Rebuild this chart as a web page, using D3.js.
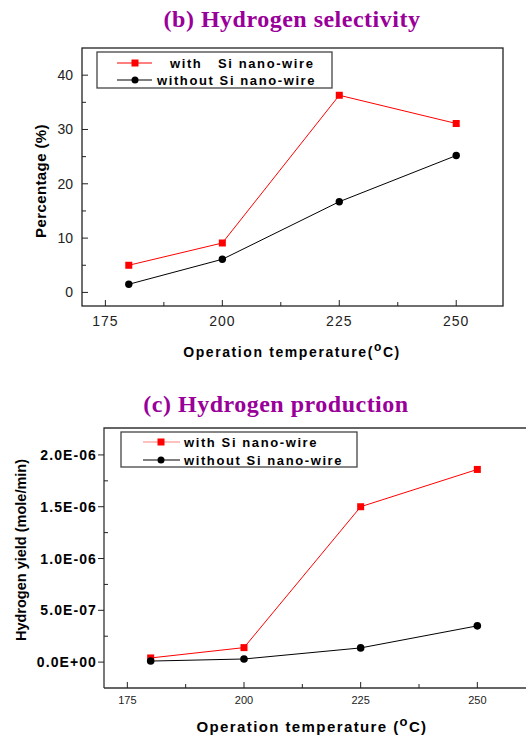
<!DOCTYPE html>
<html>
<head>
<meta charset="utf-8">
<script src="https://cdn.jsdelivr.net/npm/d3@7"></script>
<style>
  body { margin: 0; background: #fff; }
  svg { display: block; }
  text { font-family: "Liberation Sans", Arial, sans-serif; }
  .title { font-family: "Liberation Serif", "Times New Roman", serif; font-weight: bold; fill: #990099; font-size: 24px; letter-spacing: 0.5px; }
</style>
</head>
<body>
<svg id="chart" width="526" height="738"></svg>
<script>
// temperatures (deg C)
var temps = [180, 200, 225, 250];
var xTicks = [175, 200, 225, 250];

// (b) hydrogen selectivity, %
var selWith = [5.0, 9.1, 36.3, 31.1];
var selWithout = [1.5, 6.1, 16.7, 25.2];
var selTicks = [0, 10, 20, 30, 40];

// (c) hydrogen yield, mole/min
var yieldWith = [4e-8, 1.4e-7, 1.5e-6, 1.86e-6];
var yieldWithout = [1e-8, 3e-8, 1.37e-7, 3.5e-7];
var yieldTicks = [0, 5e-7, 1e-6, 1.5e-6, 2e-6];
var yieldTickLabels = ["0.0E+00", "5.0E-07", "1.0E-06", "1.5E-06", "2.0E-06"];

var svg = d3.select("#chart");

// ---------- panel (b) ----------
var xb = d3.scaleLinear().domain([170, 260]).range([82, 503]);
var yb = d3.scaleLinear().domain([-2.5, 45]).range([306, 48]);

svg.append("text").attr("class", "title")
  .attr("x", 292).attr("y", 27).attr("text-anchor", "middle")
  .text("(b) Hydrogen selectivity");

svg.append("rect")
  .attr("x", 82).attr("y", 48).attr("width", 503 - 82).attr("height", 306 - 48)
  .attr("fill", "none").attr("stroke", "#222").attr("stroke-width", 1.3);

// y ticks (inward)
var gb = svg.append("g");
gb.selectAll(".ymaj").data(selTicks).enter().append("line")
  .attr("x1", 82).attr("x2", 88)
  .attr("y1", function(d){ return yb(d); }).attr("y2", function(d){ return yb(d); })
  .attr("stroke", "#222");
gb.selectAll(".ymin").data([5, 15, 25, 35]).enter().append("line")
  .attr("x1", 82).attr("x2", 86)
  .attr("y1", function(d){ return yb(d); }).attr("y2", function(d){ return yb(d); })
  .attr("stroke", "#222");
gb.selectAll(".ylab").data(selTicks).enter().append("text")
  .attr("x", 73).attr("y", function(d){ return yb(d) + 5; })
  .attr("text-anchor", "end").attr("font-size", 14).attr("fill", "#222")
  .text(function(d){ return d; });

// x ticks (inward)
gb.selectAll(".xmaj").data(xTicks).enter().append("line")
  .attr("x1", function(d){ return xb(d); }).attr("x2", function(d){ return xb(d); })
  .attr("y1", 306).attr("y2", 300).attr("stroke", "#222");
gb.selectAll(".xmin").data([187.5, 212.5, 237.5]).enter().append("line")
  .attr("x1", function(d){ return xb(d); }).attr("x2", function(d){ return xb(d); })
  .attr("y1", 306).attr("y2", 302).attr("stroke", "#222");
gb.selectAll(".xlab").data(xTicks).enter().append("text")
  .attr("x", function(d){ return xb(d); }).attr("y", 326)
  .attr("text-anchor", "middle").attr("font-size", 14).attr("fill", "#222")
  .attr("letter-spacing", 1)
  .text(function(d){ return d; });

svg.append("text")
  .attr("transform", "translate(46,181) rotate(-90)")
  .attr("text-anchor", "middle").attr("font-size", 15).attr("font-weight", "bold")
  .attr("letter-spacing", 0.4)
  .text("Percentage (%)");

var xlabB = svg.append("text")
  .attr("x", 292).attr("y", 357).attr("text-anchor", "middle")
  .attr("font-size", 14).attr("font-weight", "bold").attr("letter-spacing", 1.6);
xlabB.append("tspan").text("Operation temperature(");
xlabB.append("tspan").attr("dy", -6).attr("font-size", 12).text("o");
xlabB.append("tspan").attr("dy", 6).text("C)");

var lineB = d3.line()
  .x(function(d, i){ return xb(temps[i]); })
  .y(function(d){ return yb(d); });

svg.append("path").datum(selWith).attr("d", lineB)
  .attr("fill", "none").attr("stroke", "#ff0000").attr("stroke-width", 1);
svg.append("path").datum(selWithout).attr("d", lineB)
  .attr("fill", "none").attr("stroke", "#000").attr("stroke-width", 1);
svg.selectAll(".sqb").data(selWith).enter().append("rect")
  .attr("x", function(d, i){ return xb(temps[i]) - 3.5; })
  .attr("y", function(d){ return yb(d) - 3.5; })
  .attr("width", 7).attr("height", 7).attr("fill", "#ff0000");
svg.selectAll(".cb").data(selWithout).enter().append("circle")
  .attr("cx", function(d, i){ return xb(temps[i]); })
  .attr("cy", function(d){ return yb(d); })
  .attr("r", 3.7).attr("fill", "#000");

// legend (b)
svg.append("rect").attr("x", 97).attr("y", 52).attr("width", 235).attr("height", 36)
  .attr("fill", "#fff").attr("stroke", "#444").attr("stroke-width", 1.3);
svg.append("line").attr("x1", 117).attr("x2", 152).attr("y1", 63).attr("y2", 63)
  .attr("stroke", "#ff0000");
svg.append("rect").attr("x", 131.5).attr("y", 59.5).attr("width", 7).attr("height", 7)
  .attr("fill", "#ff0000");
svg.append("line").attr("x1", 117).attr("x2", 152).attr("y1", 80).attr("y2", 80)
  .attr("stroke", "#000");
svg.append("circle").attr("cx", 135).attr("cy", 80).attr("r", 3.5).attr("fill", "#000");
svg.append("text").attr("x", 170).attr("y", 68).attr("font-size", 13)
  .attr("font-weight", "bold").attr("letter-spacing", 1.6).attr("xml:space", "preserve")
  .text("with   Si nano-wire");
svg.append("text").attr("x", 157).attr("y", 85).attr("font-size", 13)
  .attr("font-weight", "bold").attr("letter-spacing", 1.6)
  .text("without Si nano-wire");

// ---------- panel (c) ----------
var xc = d3.scaleLinear().domain([170, 260]).range([104, 524]);
var yc = d3.scaleLinear().domain([-2.5e-7, 2.26e-6]).range([688, 428]);

svg.append("text").attr("class", "title")
  .attr("x", 276).attr("y", 412).attr("text-anchor", "middle")
  .text("(c) Hydrogen production");

svg.append("path")
  .attr("d", "M104,688V428H526M104,688H526")
  .attr("fill", "none").attr("stroke", "#333").attr("stroke-width", 1.3);

var gc = svg.append("g");
gc.selectAll(".ymaj").data(yieldTicks).enter().append("line")
  .attr("x1", 98).attr("x2", 104)
  .attr("y1", function(d){ return yc(d); }).attr("y2", function(d){ return yc(d); })
  .attr("stroke", "#222");
gc.selectAll(".ymin").data([2.5e-7, 7.5e-7, 1.25e-6, 1.75e-6]).enter().append("line")
  .attr("x1", 104).attr("x2", 108)
  .attr("y1", function(d){ return yc(d); }).attr("y2", function(d){ return yc(d); })
  .attr("stroke", "#222");
gc.selectAll(".ylab").data(yieldTicks).enter().append("text")
  .attr("x", 97).attr("y", function(d){ return yc(d) + 5; })
  .attr("text-anchor", "end").attr("font-size", 14).attr("font-weight", "bold")
  .attr("letter-spacing", 1.1)
  .text(function(d, i){ return yieldTickLabels[i]; });

gc.selectAll(".xmaj").data(xTicks).enter().append("line")
  .attr("x1", function(d){ return xc(d); }).attr("x2", function(d){ return xc(d); })
  .attr("y1", 688).attr("y2", 682).attr("stroke", "#222");
gc.selectAll(".xmin").data([187.5, 212.5, 237.5]).enter().append("line")
  .attr("x1", function(d){ return xc(d); }).attr("x2", function(d){ return xc(d); })
  .attr("y1", 688).attr("y2", 684).attr("stroke", "#222");
gc.selectAll(".xlab").data(xTicks).enter().append("text")
  .attr("x", function(d){ return xc(d); }).attr("y", 704)
  .attr("text-anchor", "middle").attr("font-size", 11).attr("fill", "#222")
  .text(function(d){ return d; });

svg.append("text")
  .attr("transform", "translate(26,550) rotate(-90)")
  .attr("text-anchor", "middle").attr("font-size", 14.5).attr("font-weight", "bold")
  .text("Hydrogen yield (mole/min)");

var xlabC = svg.append("text")
  .attr("x", 312).attr("y", 732).attr("text-anchor", "middle")
  .attr("font-size", 15).attr("font-weight", "bold").attr("letter-spacing", 1.4);
xlabC.append("tspan").text("Operation temperature (");
xlabC.append("tspan").attr("dy", -6).attr("font-size", 13).text("o");
xlabC.append("tspan").attr("dy", 6).text("C)");

var lineC = d3.line()
  .x(function(d, i){ return xc(temps[i]); })
  .y(function(d){ return yc(d); });

svg.append("path").datum(yieldWith).attr("d", lineC)
  .attr("fill", "none").attr("stroke", "#ff0000").attr("stroke-width", 1);
svg.append("path").datum(yieldWithout).attr("d", lineC)
  .attr("fill", "none").attr("stroke", "#000").attr("stroke-width", 1);
svg.selectAll(".sqc").data(yieldWith).enter().append("rect")
  .attr("x", function(d, i){ return xc(temps[i]) - 3.5; })
  .attr("y", function(d){ return yc(d) - 3.5; })
  .attr("width", 7).attr("height", 7).attr("fill", "#ff0000");
svg.selectAll(".cc").data(yieldWithout).enter().append("circle")
  .attr("cx", function(d, i){ return xc(temps[i]); })
  .attr("cy", function(d){ return yc(d); })
  .attr("r", 3.8).attr("fill", "#000");

// legend (c)
svg.append("rect").attr("x", 121).attr("y", 432).attr("width", 236).attr("height", 35)
  .attr("fill", "#fff").attr("stroke", "#444").attr("stroke-width", 1.3);
svg.append("line").attr("x1", 143).attr("x2", 180).attr("y1", 442).attr("y2", 442)
  .attr("stroke", "#ff8080");
svg.append("rect").attr("x", 157.5).attr("y", 438.5).attr("width", 7).attr("height", 7)
  .attr("fill", "#ff0000");
svg.append("line").attr("x1", 143).attr("x2", 180).attr("y1", 460).attr("y2", 460)
  .attr("stroke", "#000");
svg.append("circle").attr("cx", 161).attr("cy", 460).attr("r", 3.5).attr("fill", "#000");
svg.append("text").attr("x", 184).attr("y", 447).attr("font-size", 13)
  .attr("font-weight", "bold").attr("letter-spacing", 1.6)
  .text("with Si nano-wire");
svg.append("text").attr("x", 184).attr("y", 465).attr("font-size", 13)
  .attr("font-weight", "bold").attr("letter-spacing", 1.6)
  .text("without Si nano-wire");
</script>
</body>
</html>
